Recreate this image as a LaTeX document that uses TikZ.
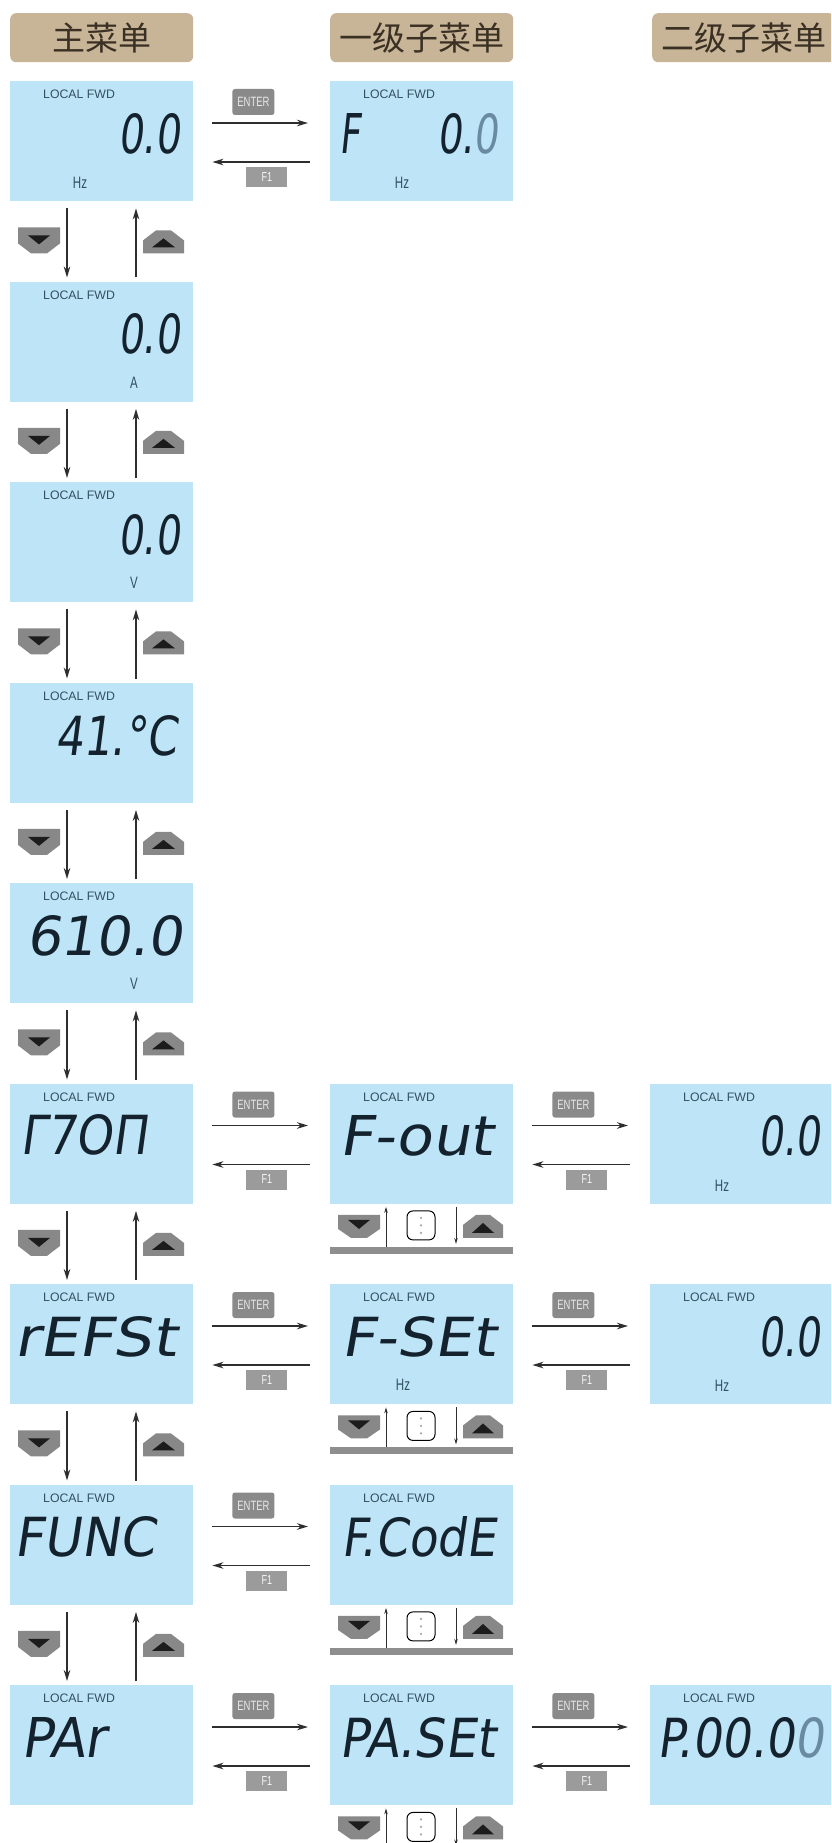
\documentclass[tikz,border=0pt]{standalone}
\usepackage{fontspec}
\usetikzlibrary{arrows.meta,calc}
\setmainfont{Liberation Sans}
\newfontfamily\cjk{Noto Sans CJK SC}
\newfontfamily\lcdf[FakeSlant=0.16]{DejaVu Sans}
\newfontfamily\smallf[FakeStretch=0.7]{Liberation Sans}
\definecolor{lcdbg}{HTML}{BDE4F7}
\definecolor{hdrbg}{HTML}{C8B597}
\definecolor{hdrtx}{HTML}{3B3024}
\definecolor{segc}{HTML}{14222E}
\definecolor{blinkc}{HTML}{6A8AA2}
\definecolor{smallc}{HTML}{34505F}
\definecolor{btng}{HTML}{888888}
\definecolor{trig}{HTML}{1C1C1C}
\definecolor{entg}{HTML}{8A8A8A}
\definecolor{f1g}{HTML}{9B9B9B}
\definecolor{barg}{HTML}{8E8E8E}
\definecolor{arrc}{HTML}{2E2E2E}
\newcommand{\sg}[2]{\resizebox{#1pt}{40pt}{\lcdf #2}}
\newcommand{\hlink}[3]{%
  \node[entr] (en#3) at ([xshift=60pt,yshift=-21pt]#1.north east) {ENTER};
  \node[fone] (fn#3) at ([xshift=73.5pt,yshift=-96pt]#1.north east) {F1};
  \draw[harr] ([xshift=19pt,yshift=-42pt]#1.north east) -- ([xshift=-22pt,yshift=-42pt]#2.north west);
  \draw[harr] ([xshift=-20pt,yshift=-81pt]#2.north west) -- ([xshift=19pt,yshift=-81pt]#1.north east);
}
\begin{document}
\begin{tikzpicture}[x=1pt,y=-1pt,
  lcdbox/.style={fill=lcdbg, draw=none, minimum width=183pt, minimum height=120pt, inner sep=0pt, anchor=north west},
  hdr/.style={fill=hdrbg, rounded corners=6pt, minimum width=183pt, minimum height=49pt, inner sep=0pt, anchor=north west, text=hdrtx, font=\cjk\fontsize{33}{33}\selectfont},
  harr/.style={draw=arrc, line width=1.6pt, -{Stealth[length=11pt,width=6.5pt,inset=3.5pt]}},
  sarr/.style={draw=arrc, line width=0.8pt, -{Stealth[length=6pt,width=3.5pt,inset=2pt]}},
  lbl/.style={font=\fontsize{12.3}{12.3}\selectfont, text=smallc, inner sep=0pt, anchor=north west},
  unit/.style={font=\smallf\fontsize{16.5}{16.5}\selectfont, text=smallc, inner sep=0pt},
  entr/.style={fill=entg, rounded corners=2.5pt, minimum width=42pt, minimum height=26pt, inner sep=0pt, text=white!82!gray, font=\smallf\fontsize{13.5}{13.5}\selectfont},
  fone/.style={fill=f1g, minimum width=41pt, minimum height=20pt, inner sep=0pt, text=white!92!gray, font=\smallf\fontsize{13}{13}\selectfont},
  seg/.style={inner sep=0pt, text=segc},
  dnbtn/.pic={
    \fill[btng] (0,0) -- (42,0) -- (42,16) -- (29,26) -- (13,26) -- (0,16) -- cycle;
    \fill[trig] (10,8) -- (32,8) -- (21,17) -- cycle;
  },
  upbtn/.pic={
    \fill[btng] (0,23) -- (41,23) -- (41,10) -- (28,0) -- (13,0) -- (0,10) -- cycle;
    \fill[trig] (9,17) -- (32,17) -- (20.5,8) -- cycle;
  },
  ctlbar/.pic={
    \fill[btng] (8,11) -- (50,11) -- (50,25) -- (37,34) -- (21,34) -- (8,25) -- cycle;
    \fill[trig] (18,16) -- (40,16) -- (29,25) -- cycle;
    \draw[sarr] (56,43) -- (56,3);
    \draw[line width=1pt, rounded corners=6pt, fill=white] (77,7) rectangle (105,36);
    \fill[gray!70] (91,14) circle (1.2pt) (91,21.5) circle (1.2pt) (91,29) circle (1.2pt);
    \draw[sarr] (126,3) -- (126,40);
    \fill[btng] (133,34) -- (173,34) -- (173,21) -- (160,11) -- (146,11) -- (133,21) -- cycle;
    \fill[trig] (142,29) -- (164,29) -- (153,19) -- cycle;
    \fill[barg] (0,43) rectangle (183,50);
  }]
\useasboundingbox (0,0) rectangle (831,1843);
\fill[white] (0,0) rectangle (831,1843);
\clip (0,0) rectangle (831,1843);

% headers
\node[hdr] (h1) at (10,13) {主菜单};
\node[hdr] (h2) at (330,13) {一级子菜单};
\node[hdr] (h3) at (652,13) {二级子菜单};

% main column
\foreach \i in {0,...,8} {
  \node[lcdbox] (m\i) at (10,{81+200.5*\i}) {};
  \node[lbl] (ml\i) at ([xshift=33pt,yshift=-9pt]m\i.north west) {LOCAL FWD};
}
\foreach \i in {0,...,7} {
  \pgfmathtruncatemacro{\j}{\i+1}
  \draw[harr] ([xshift=57pt,yshift=-7pt]m\i.south west) -- ([xshift=57pt,yshift=4pt]m\j.north west);
  \draw[harr] ([xshift=126pt,yshift=4pt]m\j.north west) -- ([xshift=126pt,yshift=-7pt]m\i.south west);
  \pic at ([xshift=8pt,yshift=-26pt]m\i.south west) {dnbtn};
  \pic at ([xshift=133pt,yshift=-29pt]m\i.south west) {upbtn};
}
\node[seg,anchor=north east] (mv0) at ([xshift=-13pt,yshift=-32pt]m0.north east) {\sg{62}{0.0}};
\node[unit] (mu0) at ([xshift=70pt,yshift=-102pt]m0.north west) {Hz};
\node[seg,anchor=north east] (mv1) at ([xshift=-13pt,yshift=-32pt]m1.north east) {\sg{62}{0.0}};
\node[unit] (mu1) at ([xshift=124pt,yshift=-101pt]m1.north west) {A};
\node[seg,anchor=north east] (mv2) at ([xshift=-13pt,yshift=-32pt]m2.north east) {\sg{62}{0.0}};
\node[unit] (mu2) at ([xshift=124pt,yshift=-101pt]m2.north west) {V};
\node[seg,anchor=north east] (mv3) at ([xshift=-16pt,yshift=-33pt]m3.north east) {\sg{122}{41.°C}};
\node[seg,anchor=north east] (mv4) at ([xshift=-11pt,yshift=-32pt]m4.north east) {\sg{156}{610.0}};
\node[unit] (mu4) at ([xshift=124pt,yshift=-101pt]m4.north west) {V};
\node[seg,anchor=north west] (mv5) at ([xshift=10pt,yshift=-31pt]m5.north west) {\sg{127}{Γ7OΠ}};
\node[seg,anchor=north west] (mv6) at ([xshift=4pt,yshift=-32pt]m6.north west) {\sg{162}{rEFSt}};
\node[seg,anchor=north west] (mv7) at ([xshift=4pt,yshift=-32pt]m7.north west) {\sg{141}{FUNC}};
\node[seg,anchor=north west] (mv8) at ([xshift=11pt,yshift=-32pt]m8.north west) {\sg{85}{PAr}};

% second column
\node[lcdbox] (s0) at (330,81) {};
\node[lcdbox] (s5) at (330,{81+200.5*5}) {};
\node[lcdbox] (s6) at (330,{81+200.5*6}) {};
\node[lcdbox] (s7) at (330,{81+200.5*7}) {};
\node[lcdbox] (s8) at (330,{81+200.5*8}) {};
\foreach \i in {0,5,6,7,8} {
  \node[lbl] (sl\i) at ([xshift=33pt,yshift=-9pt]s\i.north west) {LOCAL FWD};
}
\foreach \i in {5,6,7,8} {
  \pic at (s\i.south west) {ctlbar};
}
\node[seg,anchor=north west] (sf0) at ([xshift=9pt,yshift=-32pt]s0.north west) {\sg{21}{F}};
\node[seg,anchor=north east] (sv0) at ([xshift=-15pt,yshift=-32pt]s0.north east) {\sg{61}{0.{\color{blinkc}0}}};
\node[unit] (su0) at ([xshift=72pt,yshift=-102pt]s0.north west) {Hz};
\node[seg,anchor=north west] (sv5) at ([xshift=9pt,yshift=-32pt]s5.north west) {\sg{154}{F-out}};
\node[seg,anchor=north west] (sv6) at ([xshift=11pt,yshift=-32pt]s6.north west) {\sg{154}{F-SEt}};
\node[unit] (su6) at ([xshift=73pt,yshift=-101pt]s6.north west) {Hz};
\node[seg,anchor=north west] (sv7) at ([xshift=11pt,yshift=-32pt]s7.north west) {\sg{155}{F.CodE}};
\node[seg,anchor=north west] (sv8) at ([xshift=9pt,yshift=-32pt]s8.north west) {\sg{156}{PA.SEt}};

% third column
\node[lcdbox] (t5) at (650,{81+200.5*5}) {};
\node[lcdbox] (t6) at (650,{81+200.5*6}) {};
\node[lcdbox] (t8) at (650,{81+200.5*8}) {};
\foreach \i in {5,6,8} {
  \node[lbl] (tl\i) at ([xshift=33pt,yshift=-9pt]t\i.north west) {LOCAL FWD};
}
\node[seg,anchor=north east] (tv5) at ([xshift=-13pt,yshift=-32pt]t5.north east) {\sg{62}{0.0}};
\node[unit] (tu5) at ([xshift=72pt,yshift=-102pt]t5.north west) {Hz};
\node[seg,anchor=north east] (tv6) at ([xshift=-13pt,yshift=-32pt]t6.north east) {\sg{62}{0.0}};
\node[unit] (tu6) at ([xshift=72pt,yshift=-102pt]t6.north west) {Hz};
\node[seg,anchor=north west] (tv8) at ([xshift=7pt,yshift=-32pt]t8.north west) {\sg{167}{P.00.0{\color{blinkc}0}}};

% horizontal links
\hlink{m0}{s0}{a}
\hlink{m5}{s5}{b}
\hlink{m6}{s6}{c}
\hlink{m7}{s7}{d}
\hlink{m8}{s8}{e}
\hlink{s5}{t5}{f}
\hlink{s6}{t6}{g}
\hlink{s8}{t8}{h}
\end{tikzpicture}
\end{document}
